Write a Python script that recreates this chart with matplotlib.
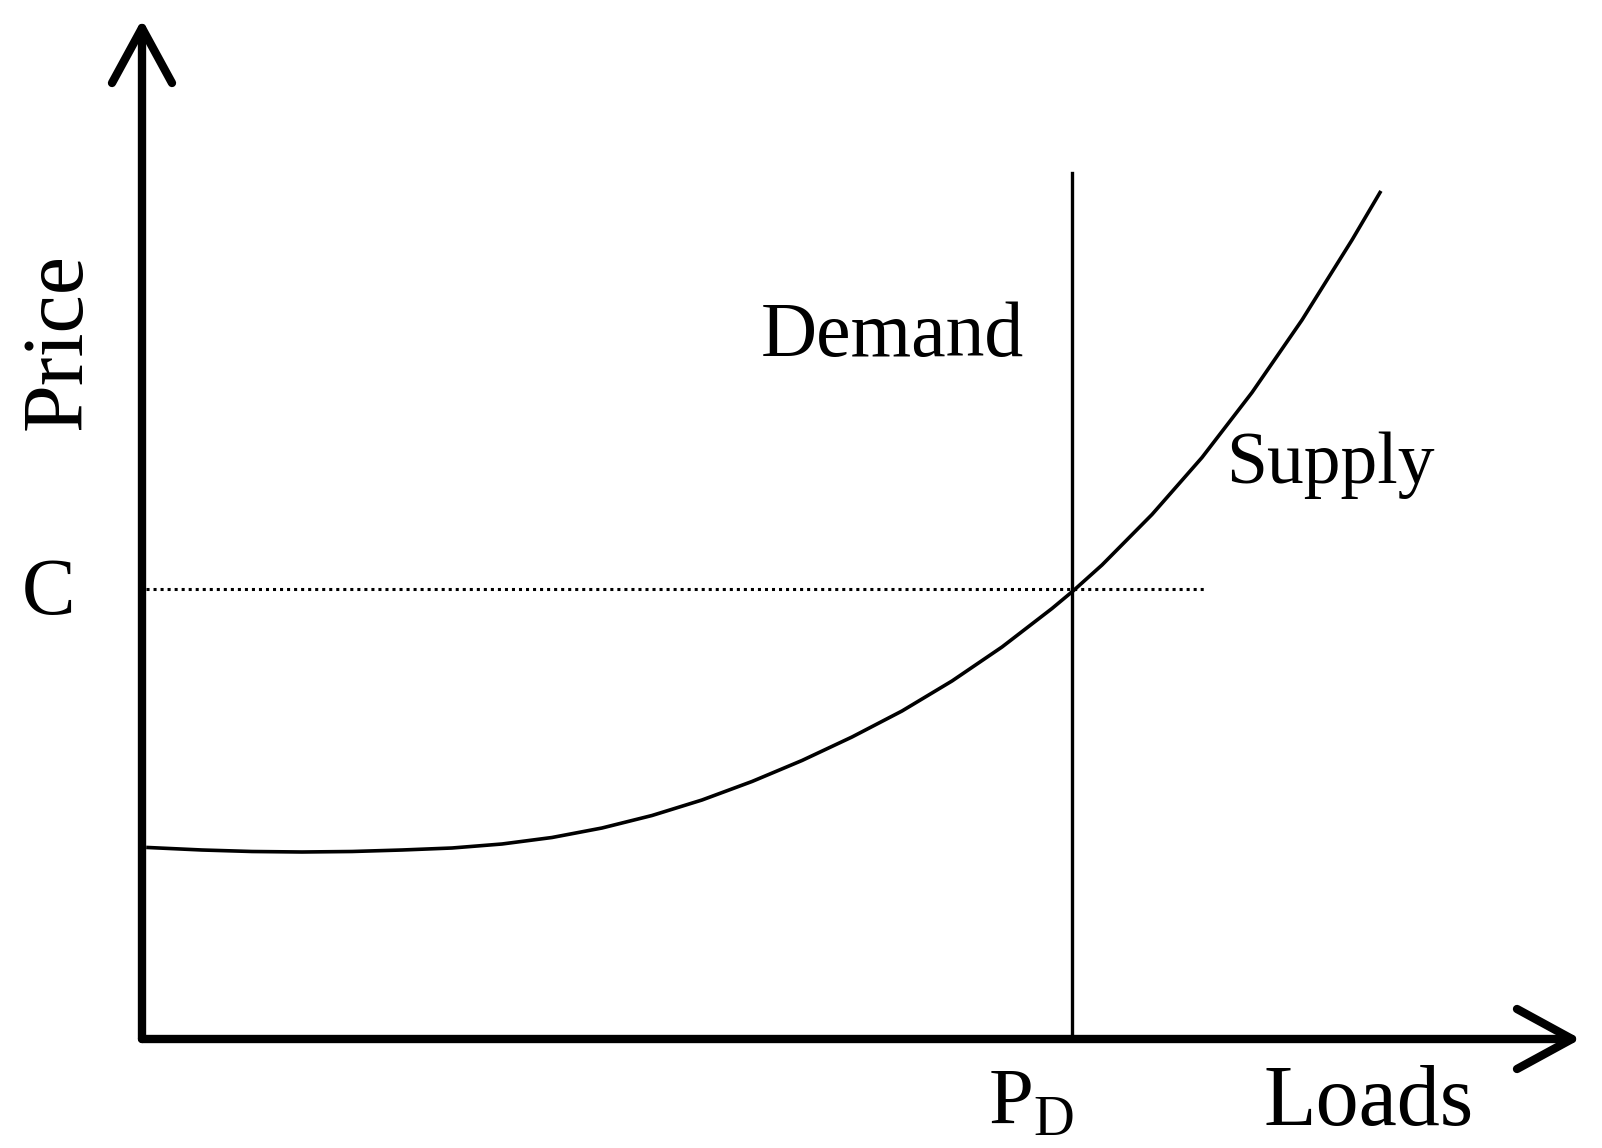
import matplotlib
matplotlib.use("Agg")
import matplotlib.pyplot as plt
import numpy as np

plt.rcParams['font.family'] = ['Liberation Serif', 'DejaVu Serif']
plt.rcParams['mathtext.fontset'] = 'custom'
plt.rcParams['mathtext.rm'] = 'Liberation Serif'

# supply curve (load, price in arbitrary units)
supplyLoad = [0.6, 6, 11, 16, 21, 26, 31, 36, 41, 46, 51, 56, 61, 66, 71, 76, 81, 86,
              91, 93.1, 96, 101, 106, 111, 116, 121, 123.8]
supplyPrice = [19.15, 18.9, 18.75, 18.7, 18.75, 18.9, 19.1, 19.5, 20.15, 21.1, 22.35,
               23.9, 25.75, 27.85, 30.2, 32.8, 35.8, 39.2, 43.05, 44.8, 47.4, 52.45,
               58.15, 64.65, 71.9, 79.9, 84.65]

demandLoad = 93.0      # P_D
demandTop = 86.6
clearingPrice = 45.0   # C
dottedEnd = 106.3

xAxisLen = 143.0
yAxisLen = 101.1

fig = plt.figure(figsize=(16.02, 11.48), dpi=100)
ax = fig.add_axes([0, 0, 1, 1])
ax.set_xlim(-14.2, 146.0)
ax.set_ylim(-10.9, 103.9)
ax.axis("off")

# axes with open arrow heads
axisStyle = dict(color="black", lw=6, solid_capstyle="round", solid_joinstyle="round")
ax.plot([0, 0], [0, yAxisLen], **axisStyle)
ax.plot([0, xAxisLen], [0, 0], **axisStyle)
ax.plot([-3.0, 0, 3.0], [yAxisLen - 5.5, yAxisLen, yAxisLen - 5.5], **axisStyle)
ax.plot([xAxisLen - 5.5, xAxisLen, xAxisLen - 5.5], [3.0, 0, -3.0], **axisStyle)

# demand, supply, clearing price
ax.plot([demandLoad, demandLoad], [0, demandTop], color="black", lw=2.4)
ax.plot(supplyLoad, supplyPrice, color="black", lw=2.6, solid_joinstyle="round")
ax.plot([0.4, dottedEnd], [clearingPrice, clearingPrice], color="black", lw=2.2,
        linestyle=(0, (1, 1.3)))

ax.text(75.0, 68.3, "Demand", fontsize=56, ha="center", va="baseline")
ax.text(108.4, 55.6, "Supply", fontsize=53, ha="left", va="baseline")
ax.text(112.2, -8.6, "Loads", fontsize=62, ha="left", va="baseline")
ax.text(84.6, -8.6, r"$\mathrm{P_D}$", fontsize=58, ha="left", va="baseline")
ax.text(-12.0, 42.5, "C", fontsize=58, ha="left", va="baseline")
ax.text(-8.2, 69.8, "Price", fontsize=62, ha="center", va="center", rotation=90)

fig.savefig("out.png", dpi=100)
plt.close()
